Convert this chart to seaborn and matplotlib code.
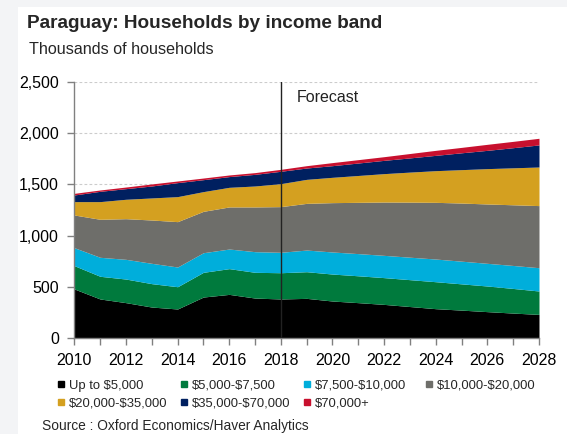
import numpy as np
import pandas as pd
import matplotlib
matplotlib.use("Agg")
import matplotlib.pyplot as plt
from matplotlib.lines import Line2D
from matplotlib.patches import Rectangle
import seaborn as sns

years = list(range(2010, 2029))
up_to_5k = [477, 379, 343, 300, 281, 398, 424, 388, 379, 385, 359, 343, 326, 305, 284, 270, 255, 241, 228]
b5k_7_5k = [228, 222, 231, 229, 218, 242, 252, 252, 257, 261, 264, 263, 262, 263, 264, 257, 251, 241, 229]
b7_5k_10k = [176, 186, 193, 199, 193, 192, 192, 202, 200, 212, 216, 217, 218, 220, 222, 222, 222, 225, 228]
b10k_20k = [320, 372, 398, 424, 444, 405, 412, 438, 447, 457, 483, 502, 522, 539, 555, 569, 581, 594, 608]
b20k_35k = [131, 173, 190, 216, 245, 193, 192, 205, 225, 235, 248, 263, 278, 294, 310, 327, 346, 362, 378]
b35k_70k = [65, 101, 104, 117, 137, 117, 105, 114, 121, 111, 114, 122, 130, 139, 150, 165, 179, 197, 216]
b70k_plus = [16, 13, 16, 20, 16, 16, 16, 17, 19, 23, 30, 33, 36, 43, 49, 53, 59, 62, 65]

labels = ["Up to $5,000", "$5,000-$7,500", "$7,500-$10,000", "$10,000-$20,000",
          "$20,000-$35,000", "$35,000-$70,000", "$70,000+"]
colors = ["#000000", "#007A3D", "#00AEDB", "#6E6E6A", "#D4A020", "#002060", "#C8102E"]
y_ticks = [0, 500, 1000, 1500, 2000, 2500]
y_tick_labels = ["0", "500", "1,000", "1,500", "2,000", "2,500"]

df = pd.DataFrame({"year": years, labels[0]: up_to_5k, labels[1]: b5k_7_5k,
                   labels[2]: b7_5k_10k, labels[3]: b10k_20k, labels[4]: b20k_35k,
                   labels[5]: b35k_70k, labels[6]: b70k_plus})

sns.set_theme(style="white")
plt.rcParams['font.family'] = ['Liberation Sans', 'DejaVu Sans']
plt.rcParams['text.parse_math'] = False
palette = sns.color_palette(colors)

W, H = 567, 434
fig = plt.figure(figsize=(W / 100, H / 100), dpi=100)
fig.patch.set_facecolor("#f3f4f6")
bg = Rectangle((18 / W, 0), 1 - 18 / W, 1 - 7 / H, transform=fig.transFigure,
               facecolor="white", edgecolor="none", zorder=-10)
fig.patches.append(bg)

left, right = 74.3 / W, 539 / W
bottom, top = 1 - 337.7 / H, 1 - 82.3 / H
ax = fig.add_axes([left, bottom, right - left, top - bottom])
ax.set_zorder(5)
ax.set_facecolor("none")

ax.stackplot(df["year"], *[df[l] for l in labels], colors=palette, linewidth=0, zorder=2)

ax.set_xlim(2010, 2028)
ax.set_ylim(0, 2500)
ax.set_yticks(y_ticks)
ax.set_yticklabels(y_tick_labels)
ax.set_xticks(years)
ax.set_xticklabels([str(y) if y % 2 == 0 else "" for y in years])
for v in y_ticks[1:]:
    ax.axhline(v, color="#cccccc", linestyle=(0, (2.5, 2)), linewidth=0.8, zorder=1)

ax.axvline(2018, ymin=0, ymax=1, color="#222222", linewidth=1.0, zorder=3)
ax.text(2018.6, 2350, "Forecast", fontsize=11.5, color="#222222", va="center", ha="left")

sns.despine(ax=ax, top=True, right=True)
for s in ["left", "bottom"]:
    ax.spines[s].set_color("#808080")
    ax.spines[s].set_linewidth(1.0)
ax.tick_params(axis="both", which="major", direction="out", length=5, width=1,
               color="#808080", labelsize=11.5, labelcolor="black", left=True, bottom=True)
ax.tick_params(axis="x", pad=6)
ax.tick_params(axis="y", pad=6)

fig.text(27 / W, 1 - 23 / H, "Paraguay: Households by income band", fontsize=13.7,
         fontweight="bold", va="center", ha="left")
fig.text(29 / W, 1 - 50 / H, "Thousands of households", fontsize=11.6, va="center", ha="left")
fig.text(42 / W, 1 - 426 / H, "Source : Oxford Economics/Haver Analytics", fontsize=9.9,
         va="center", ha="left")

handles = [Line2D([], [], marker="s", linestyle="none", markersize=3.8,
                  markerfacecolor=c, markeredgecolor=c) for c in colors]
columns = [[0, 4], [1, 5], [2, 6], [3]]
col_left = [57.4, 180.4, 303.4, 425.4]
for cx, idx in zip(col_left, columns):
    fig.legend([handles[i] for i in idx], [labels[i] for i in idx], ncol=1,
               loc="upper left", bbox_to_anchor=(cx / W, 1 - 379.5 / H),
               frameon=False, fontsize=9.4, handlelength=0.6, handletextpad=0.3,
               labelspacing=0.45, borderaxespad=0, borderpad=0)

fig.savefig("out.png", dpi=100, facecolor=fig.get_facecolor())
